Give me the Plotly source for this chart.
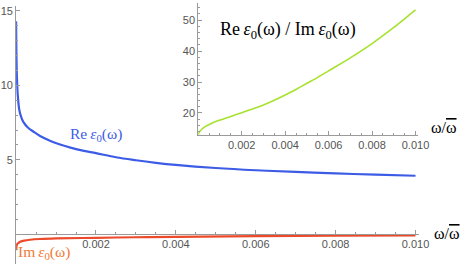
import plotly.graph_objects as go

# ---- data ----
re_w = [0, 0.000005, 0.00001, 0.00002, 0.00004, 0.00008, 0.00013, 0.00018, 0.0003,
        0.00043, 0.0006, 0.00086, 0.0011, 0.00136, 0.0017, 0.002, 0.0025, 0.003,
        0.0035, 0.004, 0.005, 0.006, 0.007, 0.008, 0.009, 0.010]
re_eps = [14.3, 12.8, 11.8, 10.6, 9.4, 8.35, 7.85, 7.55, 7.15,
          6.9, 6.6, 6.27, 6.03, 5.82, 5.6, 5.45, 5.17, 4.97,
          4.8, 4.66, 4.45, 4.3, 4.19, 4.09, 4.0, 3.93]

im_w = [0, 0.00001, 0.00003, 0.0001, 0.0002, 0.00035, 0.0006, 0.001, 0.002,
        0.003, 0.004, 0.006, 0.008, 0.010]
im_eps = [-1.07, -0.8, -0.65, -0.5, -0.43, -0.37, -0.32, -0.28, -0.24,
          -0.2, -0.17, -0.13, -0.1, -0.075]

ratio_w = [0, 0.00005, 0.00014, 0.0003, 0.0006, 0.001, 0.0015, 0.002, 0.0025,
           0.003, 0.0035, 0.004, 0.0045, 0.005, 0.0055, 0.006, 0.007, 0.008,
           0.009, 0.010]
ratio = [13.0, 13.9, 14.6, 15.5, 16.6, 17.7, 18.9, 20.1, 21.3,
         22.6, 24.1, 25.8, 27.6, 29.6, 31.5, 33.6, 37.8, 42.4,
         47.6, 53.3]

x_ticks = [0.002, 0.004, 0.006, 0.008, 0.010]
x_tick_text = ["0.002", "0.004", "0.006", "0.008", "0.010"]
main_y_ticks = [5, 10, 15]
inset_y_ticks = [20, 30, 40, 50]

W, H = 463, 267      # reference pixel frame
FIG_W = 478          # rendered width that ends up shown as 463 px
BLUE = "#3d5ce6"
RED = "#ec4a2a"
ORANGE = "#f07a35"
GREEN = "#a7e22f"
AX = "#9a9a9a"
TICKFONT = dict(family="Liberation Sans", size=11, color="#555555")


def px(x):
    return x / W


def py(y):
    return (H - y) / H


fig = go.Figure()
fig.add_trace(go.Scatter(x=re_w, y=re_eps, mode="lines",
                         line=dict(color=BLUE, width=2.2, shape="spline"),
                         xaxis="x", yaxis="y", hoverinfo="skip"))
fig.add_trace(go.Scatter(x=im_w, y=im_eps, mode="lines",
                         line=dict(color=RED, width=2.2, shape="spline"),
                         xaxis="x", yaxis="y", hoverinfo="skip"))
fig.add_trace(go.Scatter(x=ratio_w, y=ratio, mode="lines",
                         line=dict(color=GREEN, width=1.6, shape="spline",
                                   smoothing=0.6),
                         xaxis="x2", yaxis="y2", hoverinfo="skip"))

common = dict(showgrid=False, zeroline=False, showline=True, linecolor=AX,
              linewidth=1, ticks="inside", tickcolor=AX, ticklen=4,
              tickfont=TICKFONT, fixedrange=True)

fig.update_layout(
    width=FIG_W, height=H, autosize=False,
    margin=dict(l=0, r=0, t=0, b=0),
    paper_bgcolor="white", plot_bgcolor="rgba(0,0,0,0)",
    showlegend=False,
    xaxis=dict(domain=[px(16), px(416)], range=[0, 0.01008],
               anchor="free", position=py(234),
               tickmode="array", tickvals=x_ticks, ticktext=x_tick_text,
               minor=dict(ticks="inside", ticklen=2, tickcolor=AX,
                          tickmode="linear", tick0=0, dtick=0.0005),
               **common),
    yaxis=dict(domain=[py(264), py(4.5)], range=[-2.0, 15.3], anchor="x",
               tickmode="array", tickvals=main_y_ticks,
               minor=dict(ticks="inside", ticklen=2, tickcolor=AX,
                          tickmode="linear", tick0=0, dtick=1),
               **common),
    xaxis2=dict(domain=[px(197), px(415)], range=[0, 0.0101], anchor="y2",
                tickmode="array", tickvals=x_ticks, ticktext=x_tick_text,
                minor=dict(ticks="inside", ticklen=2, tickcolor=AX,
                           tickmode="linear", tick0=0, dtick=0.0005),
                **common),
    yaxis2=dict(domain=[py(134.3), py(0.7)], range=[12.8, 55.6], anchor="x2",
                tickmode="array", tickvals=inset_y_ticks,
                minor=dict(ticks="inside", ticklen=2, tickcolor=AX,
                           tickmode="linear", tick0=0, dtick=2),
                **common),
)

SERIF = "Liberation Serif"
OMEGA = "ω/<span style='text-decoration:overline'>ω</span>"
ann = [
    dict(text="Re\u2009<i>ε</i><sub>0</sub>(ω)", x=px(68), y=py(133),
         xanchor="left", font=dict(family=SERIF, size=15.5, color=BLUE)),
    dict(text="Im\u2009<i>ε</i><sub>0</sub>(ω)", x=px(16), y=py(252),
         xanchor="left", font=dict(family=SERIF, size=15.5, color=ORANGE)),
    dict(text="Re\u2009<i>ε</i><sub>0</sub>(ω) / Im\u2009<i>ε</i><sub>0</sub>(ω)",
         x=px(217), y=py(28.5), xanchor="left",
         font=dict(family=SERIF, size=18, color="black")),
    dict(text=OMEGA, x=px(429), y=py(233), xanchor="left",
         font=dict(family=SERIF, size=16, color="black")),
    dict(text=OMEGA, x=px(426), y=py(126), xanchor="left",
         font=dict(family=SERIF, size=16, color="black")),
]
for a in ann:
    fig.add_annotation(xref="paper", yref="paper", yanchor="middle",
                       showarrow=False, **a)

fig.write_html("out.html", config={"displayModeBar": False,
                                   "responsive": False},
               default_width=f"{FIG_W}px", default_height=f"{H}px",
               post_script="document.documentElement.style.overflow='hidden';"
                           "document.body.style.margin='0';"
                           "document.body.style.overflow='hidden';")
